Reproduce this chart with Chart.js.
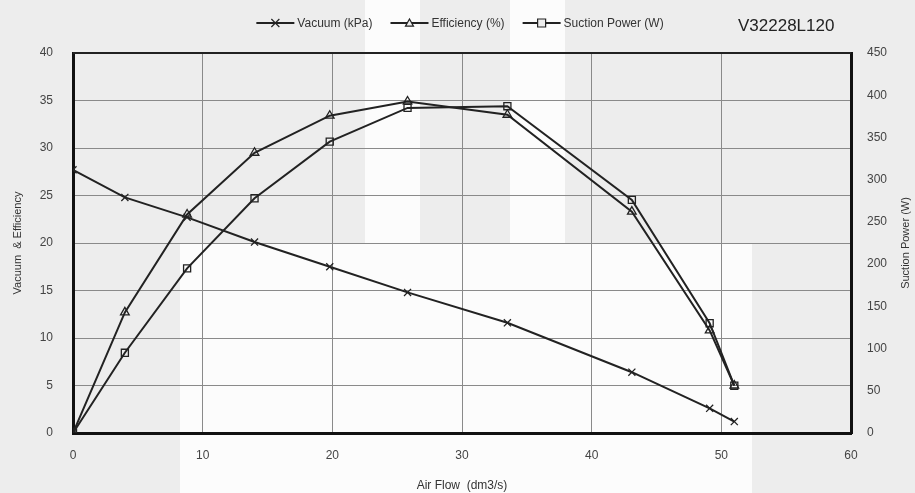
<!DOCTYPE html>
<html>
<head>
<meta charset="utf-8">
<script src="https://cdn.jsdelivr.net/npm/chart.js@4.4.0/dist/chart.umd.min.js"></script>
<style>
  html, body { margin: 0; padding: 0; background: #ededed; }
  #wrap { width: 915px; height: 493px; }
</style>
</head>
<body>
<div id="wrap"><canvas id="pumpChart" width="915" height="493"></canvas></div>
<script>
// Air flow (dm3/s)
var airFlow    = [0, 4.0, 8.8, 14.0, 19.8, 25.8, 33.5, 43.1, 49.1, 51.0];
var vacuum     = [27.7, 24.8, 22.7, 20.1, 17.5, 14.8, 11.6, 6.4, 2.6, 1.2];
var efficiency = [0, 12.7, 23.0, 29.5, 33.4, 34.9, 33.5, 23.3, 10.8, 5.0];
var suction    = [0, 95, 195, 278, 345, 385, 387, 276, 130, 56];

var xTicks = [0, 10, 20, 30, 40, 50, 60];
var leftTicks = [0, 5, 10, 15, 20, 25, 30, 35, 40];
var rightTicks = [0, 50, 100, 150, 200, 250, 300, 350, 400, 450];

var modelName = 'V32228L120';
var seriesNames = ['Vacuum (kPa)', 'Efficiency (%)', 'Suction Power (W)'];
var markerStyles = ['crossRot', 'triangle', 'rect'];

function pts(ys) {
    return airFlow.map(function (x, i) { return { x: x, y: ys[i] }; });
}

var FONT = "'Liberation Sans', 'DejaVu Sans', sans-serif";
var GRAY_BG = '#ededed';

// vẽ marker nhỏ cho legend
function drawMarker(ctx, style, x, y, r) {
    ctx.beginPath();
    if (style === 'crossRot') {
        ctx.moveTo(x - r, y - r); ctx.lineTo(x + r, y + r);
        ctx.moveTo(x + r, y - r); ctx.lineTo(x - r, y + r);
    } else if (style === 'triangle') {
        ctx.moveTo(x, y - r); ctx.lineTo(x + r, y + r * 0.8); ctx.lineTo(x - r, y + r * 0.8); ctx.closePath();
        ctx.fillStyle = GRAY_BG; ctx.fill();
    } else {
        ctx.rect(x - r, y - r, 2 * r, 2 * r);
        ctx.fillStyle = GRAY_BG; ctx.fill();
    }
    ctx.stroke();
}

var extras = {
    id: 'extras',
    beforeDraw: function (chart) {
        var ctx = chart.ctx;
        ctx.save();
        ctx.fillStyle = GRAY_BG;
        ctx.fillRect(0, 0, chart.width, chart.height);
        // lighter patches of the scanned sheet
        ctx.fillStyle = '#fcfcfc';
        ctx.fillRect(365, 0, 55, 245);
        ctx.fillRect(510, 0, 55, 245);
        ctx.fillRect(180, 243, 572, 250);
        ctx.restore();
    },
    afterDraw: function (chart) {
        var ctx = chart.ctx;
        var area = chart.chartArea;
        ctx.save();
        // top border of the plot
        ctx.strokeStyle = '#222';
        ctx.lineWidth = 2;
        ctx.beginPath();
        ctx.moveTo(area.left, area.top); ctx.lineTo(area.right, area.top);
        ctx.stroke();

        // legend
        ctx.font = '12px ' + FONT;
        ctx.textBaseline = 'middle';
        var lineLen = 38, gap = 18, textGap = 3;
        var total = 0;
        for (var i = 0; i < seriesNames.length; i++) {
            total += lineLen + textGap + ctx.measureText(seriesNames[i]).width;
            if (i < seriesNames.length - 1) total += gap;
        }
        var x = 460 - total / 2, y = 23;
        for (var j = 0; j < seriesNames.length; j++) {
            ctx.strokeStyle = '#222';
            ctx.lineWidth = 1.8;
            ctx.beginPath(); ctx.moveTo(x, y); ctx.lineTo(x + lineLen, y); ctx.stroke();
            ctx.lineWidth = 1.2;
            drawMarker(ctx, markerStyles[j], x + lineLen / 2, y, 4);
            ctx.fillStyle = '#333';
            ctx.textAlign = 'left';
            ctx.fillText(seriesNames[j], x + lineLen + textGap, y + 1);
            x += lineLen + textGap + ctx.measureText(seriesNames[j]).width + gap;
        }

        // model name
        ctx.font = '17px ' + FONT;
        ctx.fillStyle = '#222';
        ctx.textAlign = 'left';
        ctx.fillText(modelName, 738, 26);

        // right axis title, reads bottom to top
        ctx.translate(906, (area.top + area.bottom) / 2);
        ctx.rotate(-Math.PI / 2);
        ctx.font = '11px ' + FONT;
        ctx.fillStyle = '#333';
        ctx.textAlign = 'center';
        ctx.fillText('Suction Power (W)', 0, 0);
        ctx.restore();
    }
};

function lineSet(label, data, style, axis) {
    return {
        label: label,
        data: data,
        yAxisID: axis,
        borderColor: '#222',
        borderWidth: 2,
        pointStyle: style,
        pointRadius: 5,
        pointBorderWidth: 1.3,
        pointBorderColor: '#222',
        pointBackgroundColor: 'rgba(0,0,0,0)',
        tension: 0
    };
}

var tickFont = { family: FONT, size: 12 };

new Chart(document.getElementById('pumpChart').getContext('2d'), {
    type: 'line',
    data: {
        datasets: [
            lineSet(seriesNames[0], pts(vacuum), 'crossRot', 'y'),
            lineSet(seriesNames[1], pts(efficiency), 'triangle', 'y'),
            lineSet(seriesNames[2], pts(suction), 'rect', 'y2')
        ]
    },
    options: {
        responsive: false,
        animation: false,
        layout: { padding: { top: 53, left: 0, right: 0, bottom: 0 } },
        plugins: {
            legend: { display: false },
            tooltip: { enabled: false }
        },
        scales: {
            x: {
                type: 'linear',
                min: 0, max: 60,
                afterBuildTicks: function (s) { s.ticks = xTicks.map(function (v) { return { value: v }; }); },
                afterFit: function (s) { s.height = 60; },
                grid: { color: '#8a8a8a', lineWidth: 1, drawTicks: false },
                border: { color: '#111', width: 3 },
                ticks: { color: '#444', font: tickFont, padding: 15 },
                title: { display: true, text: 'Air Flow  (dm3/s)', color: '#333', font: { family: FONT, size: 12 }, padding: { top: 0, bottom: 0 } }
            },
            y: {
                position: 'left',
                min: 0, max: 40,
                afterBuildTicks: function (s) { s.ticks = leftTicks.map(function (v) { return { value: v }; }); },
                afterFit: function (s) { s.width = 73; },
                grid: { color: '#8a8a8a', lineWidth: 1, drawTicks: false },
                border: { color: '#111', width: 3 },
                ticks: { color: '#444', font: tickFont, padding: 20 },
                title: { display: true, text: 'Vacuum  & Efficiency', color: '#333', font: { family: FONT, size: 11 }, padding: { top: 11, bottom: 0 } }
            },
            y2: {
                position: 'right',
                min: 0, max: 450,
                afterBuildTicks: function (s) { s.ticks = rightTicks.map(function (v) { return { value: v }; }); },
                afterFit: function (s) { s.width = 64; },
                grid: { drawOnChartArea: false, drawTicks: false },
                border: { color: '#111', width: 3 },
                ticks: { color: '#444', font: tickFont, padding: 16 }
            }
        }
    },
    plugins: [extras]
});
</script>
</body>
</html>
